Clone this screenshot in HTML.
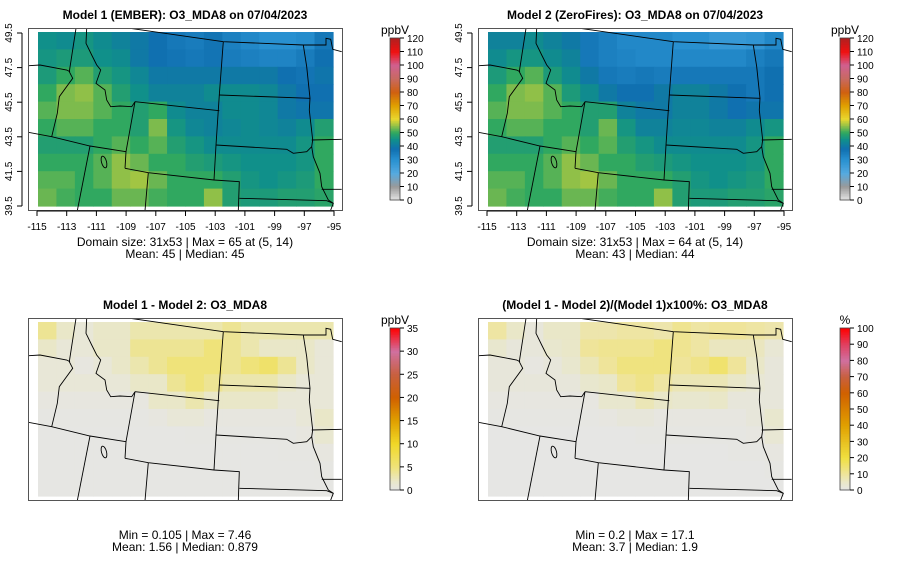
<!DOCTYPE html>
<html><head><meta charset="utf-8"><style>
body{margin:0;background:#fff;}
svg{display:block;font-family:"Liberation Sans",sans-serif;}
</style></head><body>
<svg id="c" width="900" height="579" xmlns="http://www.w3.org/2000/svg"></svg>
<script>
const m1 = [
[45,44,46,44,42,40,38,36,35,37,34,32,30,30,31,36],
[46,47,47,45,44,40,38,37,36,37,35,34,33,33,35,38],
[47,50,52,48,46,43,40,40,40,40,40,40,40,38,37,39],
[50,54,55,52,48,45,42,42,42,44,44,44,43,40,38,38],
[52,54,54,52,50,48,50,44,42,42,44,44,43,40,39,39],
[50,52,52,50,50,48,54,46,43,42,43,44,43,42,44,48],
[48,48,48,50,52,50,52,48,46,44,44,44,44,44,46,50],
[50,50,50,52,55,53,50,50,48,47,46,45,45,45,46,50],
[52,52,50,52,55,56,53,50,50,50,48,46,45,46,47,50],
[53,51,50,50,53,53,51,50,50,55,48,47,47,48,48,49]];
const m2 = [
[42,42,44,42,40,36,34,32,32,32,30,30,27,27,28,32],
[44,46,46,44,42,36,34,33,32,32,32,32,32,32,34,36],
[47,50,52,47,44,40,36,35,36,35,36,36,36,36,36,38],
[50,54,55,52,47,44,40,38,38,40,42,42,40,38,36,38],
[52,54,54,52,50,48,48,42,40,40,42,42,40,38,39,39],
[50,52,52,50,50,48,53,46,42,42,43,43,42,42,44,46],
[48,48,48,50,52,50,52,48,46,44,44,44,44,44,46,50],
[50,50,50,52,55,53,50,50,48,47,46,45,45,45,46,50],
[52,52,50,52,55,56,53,50,50,50,48,46,45,46,47,50],
[53,51,50,50,53,53,51,50,50,55,48,47,47,48,48,49]];
const diff = [
[4,2,1,2,2,3,3,3,3,3,4,3,3,3,3,3],
[2,1,1,2,2,4,4,4,4,5,4,3,2,2,2,1],
[1,1,0.5,1,2,3,4,5,5,5,4,5,6,4,2,1],
[1,1,1,1,1,2,2,4,5,4,3,3,3,2,1,1],
[0.5,0.5,0.5,0.5,0.5,0.5,2,2,3,2,2,2,2,1,1,1],
[0.3,0.3,0.3,0.3,0.3,0.3,0.5,1,1,0.5,0.5,0.5,0.5,0.5,1,2],
[0.2,0.2,0.2,0.2,0.2,0.2,0.2,0.2,0.3,0.3,0.3,0.3,0.3,0.3,0.5,1.5],
[0.2,0.2,0.2,0.2,0.2,0.2,0.2,0.2,0.2,0.2,0.2,0.2,0.2,0.3,0.3,0.5],
[0.2,0.2,0.2,0.2,0.2,0.2,0.2,0.2,0.2,0.2,0.2,0.2,0.2,0.2,0.2,0.3],
[0.2,0.2,0.2,0.2,0.2,0.2,0.2,0.2,0.2,0.2,0.2,0.2,0.2,0.2,0.2,0.2]];
const pct = [
[9,5,2,5,5,8,8,9,9,8,11,9,10,10,9,8],
[4,2,2,4,5,10,11,11,11,13,11,9,6,6,6,3],
[2,2,1,2,4,7,10,13,13,13,10,12,15,10,5,2],
[2,2,2,2,2,4,5,10,12,9,7,7,7,5,3,2],
[1,1,1,1,1,1,4,4,7,5,4,4,5,2,2,2],
[0.6,0.6,0.6,0.6,0.6,0.6,1,2,2,1,1,1,1,1,2,4],
[0.4,0.4,0.4,0.4,0.4,0.4,0.4,0.4,0.6,0.6,0.6,0.6,0.6,0.6,1,3],
[0.4,0.4,0.4,0.4,0.4,0.4,0.4,0.4,0.4,0.4,0.4,0.4,0.4,0.6,0.6,1],
[0.4,0.4,0.4,0.4,0.4,0.4,0.4,0.4,0.4,0.4,0.4,0.4,0.4,0.4,0.4,0.6],
[0.4,0.4,0.4,0.4,0.4,0.4,0.4,0.4,0.4,0.4,0.4,0.4,0.4,0.4,0.4,0.4]];
const xTicks = ["-115","-113","-111","-109","-107","-105","-103","-101","-99","-97","-95"];
const yTicks = ["49.5","47.5","45.5","43.5","41.5","39.5"];
const cb1Ticks = [0,10,20,30,40,50,60,70,80,90,100,110,120];
const cbDiffTicks = [0,5,10,15,20,25,30,35];
const cbPctTicks = [0,10,20,30,40,50,60,70,80,90,100];

const S1=[[0,"#e6e6e6"],[10,"#9a9a9a"],[20,"#55aae0"],[30,"#2890d0"],[38,"#1070b0"],[45,"#10908a"],[50,"#30a860"],[55,"#90c048"],[60,"#e8d830"],[70,"#e0a000"],[80,"#d06010"],[90,"#c86a60"],[100,"#d06090"],[110,"#f01010"],[120,"#b02020"]];
const S2=[[0,"#e6e6e6"],[2,"#e9e7c8"],[5,"#efe37a"],[10,"#f0d828"],[15,"#e0a000"],[20,"#d06000"],[25,"#c86040"],[30,"#d070a0"],[35,"#ff0000"]];
const S3=[[0,"#e6e6e6"],[5,"#e9e7c8"],[10,"#efe49a"],[20,"#f0e040"],[30,"#e8c020"],[40,"#e0a000"],[50,"#d88000"],[60,"#d06000"],[70,"#c86040"],[80,"#d070a0"],[90,"#e04060"],[100,"#ff0000"]];
function hx(c){return [1,3,5].map(i=>parseInt(c.substr(i,2),16));}
function col(v,S){if(v<=S[0][0])return S[0][1];for(let i=1;i<S.length;i++){if(v<=S[i][0]){const t=(v-S[i-1][0])/(S[i][0]-S[i-1][0]);const a=hx(S[i-1][1]),b=hx(S[i][1]);return "rgb("+a.map((x,k)=>Math.round(x+(b[k]-x)*t)).join(",")+")";}}return S[S.length-1][1];}
const svg=document.getElementById('c');const NS="http://www.w3.org/2000/svg";
function el(t,a,p){const e=document.createElementNS(NS,t);for(const k in a)e.setAttribute(k,a[k]);(p||svg).appendChild(e);return e;}
function txt(s,a,p){const e=el('text',a,p);e.textContent=s;return e;}
const borders=[
[[330,85],[610,125],[850,135],[918,135],[918,115],[932,118],[938,148],[965,155]],
[[168,85],[148,215],[158,235],[118,290],[112,340],[95,410]],
[[25,197],[60,195],[140,210],[150,215]],
[[200,85],[198,130],[215,165],[230,195],[242,210],[228,250],[255,270],[260,300],[272,320],[300,318],[335,320],[345,305]],
[[345,305],[598,332]],
[[610,125],[598,285],[588,435],[582,540]],
[[315,505],[385,518],[582,540],[658,545],[655,632]],
[[658,595],[920,602],[940,610]],
[[598,285],[870,295]],
[[588,435],[800,448],[820,460],[860,455],[875,440]],
[[850,135],[860,200],[870,295],[868,330],[878,420],[875,440]],
[[875,420],[965,418]],
[[875,440],[880,470],[900,520],[905,560],[925,600],[940,610],[932,630]],
[[905,568],[965,568]],
[[25,397],[95,410],[210,438],[318,455]],
[[345,305],[318,455],[315,505]],
[[385,518],[375,632]],
[[210,438],[172,632]]];
function panel(ox,oy,grid,S,name,title,l1,l2,axes,cbTicks,cbMax,unit){
  const g=el('g',{});
  txt(title,{x:ox+185,y:oy+19,'text-anchor':'middle','font-size':12,'font-weight':'bold'},g);
  const cid='cl'+ox+'_'+oy;
  const cp=el('clipPath',{id:cid},g);el('rect',{x:ox+29,y:oy+29,width:313,height:181},cp);
  const hm=el('g',{},g);
  const R=grid.length,C=grid[0].length,cw=295/C,ch=174/R;
  grid.forEach((row,r)=>row.forEach((v,c)=>{
    const rc=el('rect',{x:(ox+38+c*cw).toFixed(2),y:(oy+32+r*ch).toFixed(2),width:(cw+0.6).toFixed(2),height:(ch+0.6).toFixed(2),fill:col(v,S)},hm);
    
    
  }));
  const bg=el('g',{'clip-path':'url(#'+cid+')',},g);
  borders.forEach(b=>{el('polyline',{points:b.map(p=>(p[0]/3+20+ox).toFixed(1)+','+(p[1]/3+oy).toFixed(1)).join(' '),fill:'none',stroke:'#000','stroke-width':0.9},bg);});
  el('ellipse',{cx:ox+104,cy:oy+162,rx:2.5,ry:6,fill:'none',stroke:'#000','stroke-width':0.9,transform:'rotate(-15 '+(ox+104)+' '+(oy+162)+')'},bg);
  el('rect',{x:ox+28.5,y:oy+28.5,width:314,height:182,fill:'none',stroke:'#555','stroke-width':1},g);
  if(axes){
    const xs=xTicks.map((t,i)=>ox+37+i*29.7);
    el('line',{x1:xs[0],x2:xs[xs.length-1],y1:oy+211,y2:oy+211,stroke:'#000'},g);
    xTicks.forEach((t,i)=>{el('line',{x1:xs[i],x2:xs[i],y1:oy+211,y2:oy+216,stroke:'#000'},g);
      txt(t,{x:xs[i],y:oy+230,'text-anchor':'middle','font-size':10},g);});
    el('line',{x1:ox+22,x2:ox+22,y1:oy+33,y2:oy+206,stroke:'#000'},g);
    yTicks.forEach((t,i)=>{const y=oy+33+i*34.6;el('line',{x1:ox+17,x2:ox+22,y1:y,y2:y,stroke:'#000'},g);
      txt(t,{x:ox+12,y:y,'text-anchor':'middle','font-size':10,transform:'rotate(-90 '+(ox+12)+' '+y+')'},g);});
  }
  const sy=axes?oy+246:oy+249;
  txt(l1,{x:ox+185,y:sy,'text-anchor':'middle','font-size':12},g);
  txt(l2,{x:ox+185,y:sy+12,'text-anchor':'middle','font-size':12},g);
  const cx=ox+390,top=oy+38,bot=oy+200;const cb=el('g',{},g);
  for(let i=0;i<100;i++){const v0=cbMax*i/100;el('rect',{x:cx,y:(bot-(i+1)*(bot-top)/100).toFixed(2),width:10,height:((bot-top)/100+0.5).toFixed(2),fill:col(v0+cbMax/200,S)},cb);}
  el('rect',{x:cx,y:top,width:10,height:bot-top,fill:'none',stroke:'#444','stroke-width':0.8},cb);
  cbTicks.forEach(t=>{const y=bot-(bot-top)*t/cbMax;el('line',{x1:cx+10,x2:cx+14,y1:y,y2:y,stroke:'#000'},cb);
    txt(String(t),{x:cx+17,y:y+4,'font-size':10},cb);});
  txt(unit,{x:cx+5,y:top-4,'text-anchor':'middle','font-size':12},cb);
}
panel(0,0,m1,S1,'panel-model1','Model 1 (EMBER): O3_MDA8 on 07/04/2023','Domain size: 31x53 | Max = 65 at (5, 14)','Mean: 45 |  Median: 45',true,cb1Ticks,120,'ppbV');
panel(450,0,m2,S1,'panel-model2','Model 2 (ZeroFires): O3_MDA8 on 07/04/2023','Domain size: 31x53 | Max = 64 at (5, 14)','Mean: 43 |  Median: 44',true,cb1Ticks,120,'ppbV');
panel(0,290,diff,S2,'panel-difference','Model 1 - Model 2: O3_MDA8','Min = 0.105 | Max = 7.46','Mean: 1.56 |  Median: 0.879',false,cbDiffTicks,35,'ppbV');
panel(450,290,pct,S3,'panel-percent-difference','(Model 1 - Model 2)/(Model 1)x100%: O3_MDA8','Min = 0.2 | Max = 17.1','Mean: 3.7 |  Median: 1.9',false,cbPctTicks,100,'%');
</script>
</body></html>
